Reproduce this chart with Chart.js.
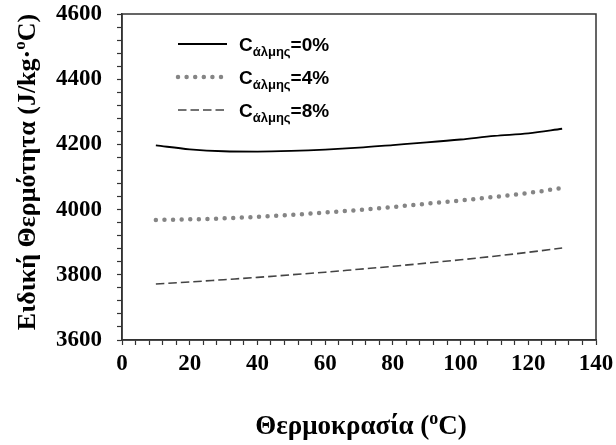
<!DOCTYPE html>
<html>
<head>
<meta charset="utf-8">
<script src="https://cdn.jsdelivr.net/npm/chart.js@4"></script>
<style>
    html, body { margin: 0; padding: 0; background: #fff; }
    #wrap { width: 616px; height: 445px; }
</style>
</head>
<body>
<div id="wrap"><canvas id="heatChart" width="616" height="445"></canvas></div>
<script>
// temperatures (oC)
const temps = [10, 20, 30, 40, 50, 60, 70, 80, 90, 100, 110, 120, 130];
// specific heat (J/kg.oC) for each brine concentration
const brine0 = [4197, 4185, 4179, 4178, 4180, 4184, 4190, 4198, 4206, 4215, 4226, 4234, 4248];
const brine4 = [3968, 3970, 3973, 3978, 3984, 3991, 3999, 4008, 4018, 4028, 4039, 4051, 4066];
const brine8 = [3772, 3778, 3785, 3792, 3800, 3808, 3817, 3826, 3836, 3846, 3857, 3869, 3882];
const seriesNames = ['=0%', '=4%', '=8%'];

const xTickLabels = [0, 20, 40, 60, 80, 100, 120, 140];
const yTickLabels = [3600, 3800, 4000, 4200, 4400, 4600];

const axisColor = '#333';

const styles = [
    { borderColor: '#000', borderWidth: 1.8, borderDash: [] },
    { borderColor: '#858585', borderWidth: 4.5, borderDash: [0, 8.6], borderCapStyle: 'round' },
    { borderColor: '#444', borderWidth: 1.6, borderDash: [8.5, 4] }
];

function toPoints(ys) {
    return temps.map((t, i) => ({ x: t, y: ys[i] }));
}

// draws text with a smaller raised or lowered part
function drawParts(ctx, parts, x, y) {
    let cx = x;
    parts.forEach(p => {
        ctx.font = p.font;
        ctx.fillText(p.text, cx, y + (p.dy || 0));
        cx += ctx.measureText(p.text).width;
    });
    return cx;
}

function partsWidth(ctx, parts) {
    let w = 0;
    parts.forEach(p => {
        ctx.font = p.font;
        w += ctx.measureText(p.text).width;
    });
    return w;
}

// box, legend and axis titles
const decorPlugin = {
    id: 'decor',
    afterDraw(chart) {
        const ctx = chart.ctx;
        const a = chart.chartArea;
        ctx.save();
        ctx.strokeStyle = axisColor;
        ctx.lineWidth = 1.5;
        ctx.strokeRect(a.left, a.top, a.right - a.left, a.bottom - a.top);

        // legend
        const rows = [44, 77, 110];
        ctx.textBaseline = 'alphabetic';
        ctx.fillStyle = '#000';
        seriesNames.forEach((name, i) => {
            const s = styles[i];
            ctx.beginPath();
            ctx.strokeStyle = s.borderColor;
            ctx.lineWidth = s.borderWidth;
            ctx.setLineDash(s.borderDash);
            ctx.lineCap = s.borderCapStyle || 'butt';
            ctx.moveTo(178, rows[i]);
            ctx.lineTo(227, rows[i]);
            ctx.stroke();
            ctx.setLineDash([]);
            ctx.lineCap = 'butt';
            drawParts(ctx, [
                { text: 'C', font: 'bold 19px "Liberation Sans", Arial, sans-serif' },
                { text: 'άλμης', font: 'bold 13px "Liberation Sans", Arial, sans-serif', dy: 5 },
                { text: name, font: 'bold 19px "Liberation Sans", Arial, sans-serif' }
            ], 239, rows[i] + 7);
        });

        // x title
        const xParts = [
            { text: 'Θερμοκρασία (', font: 'bold 27px "Liberation Serif", serif' },
            { text: 'o', font: 'bold 18px "Liberation Serif", serif', dy: -10 },
            { text: 'C)', font: 'bold 27px "Liberation Serif", serif' }
        ];
        const xw = partsWidth(ctx, xParts);
        drawParts(ctx, xParts, 361 - xw / 2, 434);

        // y title
        const yParts = [
            { text: 'Ειδική Θερμότητα (J/kg·', font: 'bold 26px "Liberation Serif", serif' },
            { text: 'o', font: 'bold 17px "Liberation Serif", serif', dy: -10 },
            { text: 'C)', font: 'bold 26px "Liberation Serif", serif' }
        ];
        const yw = partsWidth(ctx, yParts);
        ctx.translate(35, 172);
        ctx.rotate(-Math.PI / 2);
        drawParts(ctx, yParts, -yw / 2, 0);
        ctx.restore();
    }
};

const ctx = document.getElementById('heatChart').getContext('2d');

const datasets = [brine0, brine4, brine8].map((ys, i) => Object.assign({
    label: 'C' + seriesNames[i],
    data: toPoints(ys),
    pointRadius: 0,
    fill: false,
    cubicInterpolationMode: 'monotone'
}, styles[i]));

const tickFont = { family: '"Liberation Serif", serif', size: 23, weight: 'bold' };

const myChart = new Chart(ctx, {
    type: 'line',
    data: { datasets: datasets },
    options: {
        responsive: false,
        animation: false,
        layout: { padding: { left: 0, right: 20, top: 14, bottom: 0 } },
        scales: {
            x: {
                type: 'linear',
                min: 0,
                max: 140,
                afterFit: (scale) => {
                    scale.height = 105;
                    scale.paddingLeft = 0;
                    scale.paddingRight = 0;
                },
                border: { color: axisColor, width: 1.5 },
                grid: {
                    drawOnChartArea: false,
                    tickLength: 5,
                    tickColor: axisColor,
                    tickWidth: 1.2
                },
                ticks: {
                    stepSize: 4,
                    maxTicksLimit: 100,
                    autoSkip: false,
                    maxRotation: 0,
                    padding: 5,
                    color: '#000',
                    font: tickFont,
                    callback: (v) => xTickLabels.includes(v) ? String(v) : ''
                }
            },
            y: {
                min: 3600,
                max: 4600,
                afterFit: (scale) => {
                    scale.width = 122;
                    scale.paddingTop = 0;
                    scale.paddingBottom = 0;
                },
                border: { color: axisColor, width: 1.5 },
                grid: {
                    drawOnChartArea: false,
                    tickLength: 5,
                    tickColor: axisColor,
                    tickWidth: 1.2
                },
                ticks: {
                    stepSize: 40,
                    maxTicksLimit: 100,
                    autoSkip: false,
                    padding: 15,
                    color: '#000',
                    font: tickFont,
                    callback: (v) => yTickLabels.includes(v) ? String(v) : ''
                }
            }
        },
        plugins: {
            legend: { display: false },
            tooltip: { enabled: false }
        }
    },
    plugins: [decorPlugin]
});
</script>
</body>
</html>
